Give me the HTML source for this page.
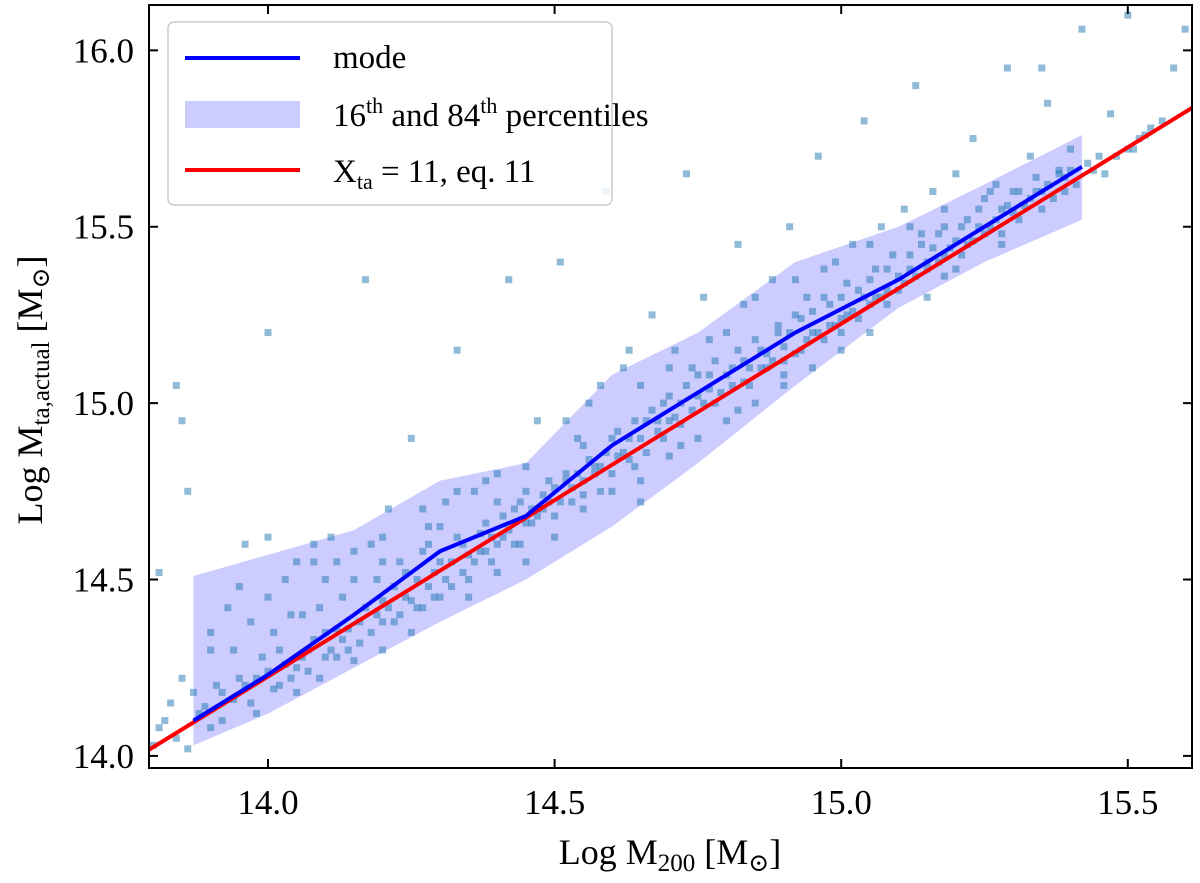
<!DOCTYPE html>
<html><head><meta charset="utf-8">
<style>
body{margin:0;background:#fff;}
svg text{font-family:"Liberation Serif","DejaVu Serif",serif;fill:#000;}
</style></head>
<body>
<svg id="chart" width="1200" height="878" viewBox="0 0 1200 878" xmlns="http://www.w3.org/2000/svg">
<g id="plot"></g>
</svg>
<script>
const xTicks=[14.0,14.5,15.0,15.5];
const xTickLabels=["14.0","14.5","15.0","15.5"];
const yTicks=[14.0,14.5,15.0,15.5,16.0];
const yTickLabels=["14.0","14.5","15.0","15.5","16.0"];
const modeX=[13.87,14.0,14.15,14.3,14.45,14.6,14.75,14.92,15.1,15.25,15.42];
const modeY=[14.1,14.23,14.4,14.58,14.68,14.88,15.03,15.2,15.35,15.5,15.67];
const bandX=[13.87,14.0,14.15,14.3,14.45,14.6,14.75,14.92,15.1,15.25,15.42];
const bandHi=[14.51,14.57,14.64,14.78,14.83,15.08,15.2,15.4,15.5,15.62,15.76];
const bandLo=[14.03,14.12,14.25,14.38,14.5,14.65,14.83,15.05,15.27,15.4,15.52];
const fitX=[13.79,15.62];
const fitY=[14.015,15.845];
const pts=[[13.8,14.03],[13.82,14.1],[13.84,14.05],[13.85,14.22],[13.86,14.75],[13.84,15.05],[13.81,14.52],[13.85,14.95],[13.88,14.12],[13.9,14.08],[13.9,14.3],[13.92,14.18],[13.93,14.42],[13.95,14.22],[13.96,14.6],[13.97,14.15],[13.99,14.28],[14.0,15.2],[14.01,14.35],[14.02,14.2],[14.03,14.5],[14.05,14.25],[14.06,14.4],[14.07,14.3],[14.08,14.55],[14.09,14.22],[14.1,14.35],[14.11,14.62],[14.12,14.28],[14.13,14.45],[14.14,14.36],[14.15,14.5],[14.16,14.32],[14.17,15.35],[14.18,14.6],[14.19,14.4],[14.2,14.44],[14.21,14.7],[14.22,14.38],[14.23,14.55],[14.24,14.45],[14.25,14.9],[14.26,14.5],[14.27,14.42],[14.28,14.65],[14.29,14.52],[14.3,14.45],[14.31,14.72],[14.32,14.55],[14.33,15.15],[14.34,14.6],[14.35,14.5],[14.36,14.75],[14.37,14.58],[14.38,14.66],[14.39,14.55],[14.4,14.8],[14.41,14.62],[14.42,15.35],[14.43,14.7],[14.44,14.6],[14.45,14.75],[14.46,14.66],[14.47,14.95],[14.48,14.7],[14.49,14.78],[14.5,14.68],[14.51,15.4],[14.52,14.8],[14.53,14.72],[14.54,14.9],[14.55,14.78],[14.56,15.0],[14.57,14.82],[14.58,14.75],[14.59,15.6],[14.6,14.9],[14.61,14.85],[14.62,15.1],[14.63,14.9],[14.64,14.82],[14.65,15.05],[14.66,14.95],[14.67,15.25],[14.68,14.92],[14.69,15.0],[14.7,14.95],[14.71,15.15],[14.72,15.0],[14.73,15.65],[14.74,15.1],[14.75,15.02],[14.76,15.3],[14.77,15.08],[14.78,15.0],[14.8,15.2],[14.81,15.1],[14.82,15.45],[14.83,15.12],[14.84,15.05],[14.85,15.3],[14.86,15.15],[14.87,15.1],[14.88,15.35],[14.89,15.2],[14.9,15.12],[14.91,15.5],[14.92,15.25],[14.93,15.15],[14.94,15.3],[14.95,15.2],[14.96,15.7],[14.97,15.3],[14.98,15.22],[14.99,15.4],[15.0,15.3],[15.01,15.25],[15.02,15.45],[15.03,15.32],[15.04,15.8],[15.05,15.35],[15.06,15.3],[15.07,15.5],[15.08,15.38],[15.1,15.32],[15.11,15.55],[15.12,15.42],[15.13,15.9],[15.14,15.45],[15.15,15.38],[15.16,15.6],[15.17,15.48],[15.18,15.42],[15.2,15.65],[15.21,15.5],[15.22,15.45],[15.23,15.75],[15.24,15.55],[15.25,15.48],[15.27,15.62],[15.28,15.55],[15.29,15.95],[15.3,15.6],[15.31,15.52],[15.33,15.7],[15.34,15.6],[15.35,15.55],[15.36,15.85],[15.38,15.65],[15.39,15.6],[15.4,15.72],[15.41,15.62],[15.43,15.68],[15.45,15.7],[15.46,15.65],[15.47,15.82],[15.5,15.72],[15.52,15.75],[15.54,15.78],[15.56,15.8],[15.58,15.95],[15.6,16.06],[15.62,16.05],[15.5,16.1],[15.42,16.06],[15.35,15.95],[14.2,14.3],[14.25,14.35],[14.35,14.45],[14.4,14.52],[14.45,14.55],[14.55,14.7],[14.65,14.78],[14.7,14.85],[14.8,14.95],[14.85,15.0],[14.95,15.1],[15.05,15.2],[15.15,15.3],[15.2,15.38],[14.0,14.45],[14.05,14.55],[14.1,14.5],[13.95,14.48],[14.15,14.58],[13.9,14.35],[14.3,14.65],[14.6,14.75],[14.75,14.9],[14.9,15.05],[15.0,15.15],[14.15,14.27],[14.05,14.18],[13.98,14.12],
[13.81,14.08],[13.83,14.15],[13.86,14.02],[13.87,14.18],[13.89,14.14],[13.91,14.2],[13.92,14.1],[13.94,14.16],[13.94,14.3],[13.96,14.2],[13.97,14.38],[13.98,14.22],[14.0,14.24],[14.01,14.19],[14.02,14.3],[14.03,14.26],[14.04,14.22],[14.04,14.4],[14.06,14.28],[14.07,14.24],[14.08,14.33],[14.09,14.42],[14.1,14.28],[14.11,14.3],[14.12,14.36],[14.13,14.33],[14.14,14.3],[14.16,14.38],[14.17,14.42],[14.18,14.35],[14.19,14.5],[14.2,14.38],[14.21,14.42],[14.22,14.48],[14.23,14.4],[14.24,14.52],[14.25,14.44],[14.26,14.42],[14.27,14.58],[14.28,14.48],[14.29,14.45],[14.3,14.55],[14.31,14.5],[14.32,14.48],[14.33,14.62],[14.34,14.52],[14.35,14.57],[14.36,14.55],[14.37,14.63],[14.38,14.58],[14.39,14.62],[14.4,14.6],[14.41,14.68],[14.42,14.64],[14.43,14.6],[14.44,14.72],[14.45,14.66],[14.46,14.7],[14.47,14.68],[14.48,14.74],[14.49,14.72],[14.5,14.76],[14.51,14.72],[14.52,14.78],[14.53,14.76],[14.54,14.8],[14.55,14.74],[14.56,14.84],[14.57,14.8],[14.58,14.82],[14.59,14.86],[14.6,14.8],[14.61,14.92],[14.62,14.86],[14.63,14.84],[14.64,14.95],[14.65,14.9],[14.66,14.86],[14.67,14.98],[14.68,14.95],[14.69,14.9],[14.7,15.02],[14.71,14.96],[14.72,14.94],[14.73,15.05],[14.74,14.98],[14.75,15.08],[14.76,15.0],[14.77,15.04],[14.78,15.12],[14.79,15.03],[14.8,15.08],[14.81,15.05],[14.82,15.15],[14.83,15.06],[14.84,15.1],[14.85,15.18],[14.86,15.1],[14.87,15.14],[14.88,15.12],[14.89,15.22],[14.9,15.16],[14.91,15.2],[14.92,15.14],[14.93,15.24],[14.94,15.18],[14.95,15.26],[14.96,15.2],[14.97,15.18],[14.98,15.28],[14.99,15.22],[15.0,15.24],[15.01,15.34],[15.02,15.26],[15.03,15.24],[15.04,15.3],[15.05,15.28],[15.06,15.38],[15.07,15.3],[15.08,15.32],[15.09,15.42],[15.1,15.36],[15.11,15.34],[15.12,15.38],[15.13,15.36],[15.14,15.48],[15.15,15.4],[15.16,15.44],[15.17,15.4],[15.18,15.5],[15.19,15.44],[15.2,15.46],[15.21,15.42],[15.22,15.52],[15.23,15.46],[15.24,15.5],[15.25,15.58],[15.26,15.5],[15.27,15.52],[15.28,15.48],[15.29,15.56],[15.3,15.54],[15.31,15.6],[15.32,15.56],[15.33,15.58],[15.34,15.64],[15.35,15.6],[15.36,15.62],[15.37,15.58],[15.38,15.66],[15.39,15.64],[15.4,15.66],[15.44,15.66],[15.48,15.7],[15.51,15.72],[15.53,15.76],[14.0,14.62],[14.08,14.6],[14.12,14.55],[14.2,14.62],[14.27,14.7],[14.33,14.75],[14.38,14.78],[14.45,14.82],[14.52,14.95],[14.58,15.05],[14.63,15.15],[14.7,15.1],[14.77,15.18],[14.83,15.28],[14.92,15.35],[14.97,15.38],[15.05,15.45],[15.12,15.5],[15.18,15.55],[15.26,15.6],[14.2,14.55],[14.28,14.6],[14.4,14.72],[14.5,14.62],[14.55,14.88],[14.65,14.72],[14.72,14.88],[14.82,14.98],[14.9,15.08],[15.0,15.2],[15.08,15.28],[15.18,15.36],[15.28,15.45]];

const L=149,R=1192,T=5,B=768;
const X0=13.7924,X1=15.612,Y0=13.9657,Y1=16.1286;
function sx(v){return L+(v-X0)/(X1-X0)*(R-L);}
function sy(v){return B-(v-Y0)/(Y1-Y0)*(B-T);}
const NS="http://www.w3.org/2000/svg";
const svg=document.getElementById('chart');
const g=document.getElementById('plot');
function mk(tag,attrs,parent){const e=document.createElementNS(NS,tag);for(const k in attrs)e.setAttribute(k,attrs[k]);(parent||g).appendChild(e);return e;}

let d='';
bandX.forEach((x,i)=>{d+=(i?'L':'M')+sx(x)+','+sy(bandHi[i]);});
for(let i=bandX.length-1;i>=0;i--)d+='L'+sx(bandX[i])+','+sy(bandLo[i]);
const band=mk('path',{d:d+'Z',fill:'#ccccff'});



const defs=mk('defs',{},svg);
const cp=mk('clipPath',{id:'clip'},defs);mk('rect',{x:L,y:T,width:R-L,height:B-T},cp);
const sg=mk('g',{'clip-path':'url(#clip)'});


pts.forEach(p=>{const r=mk('rect',{x:sx(p[0])-3.5,y:sy(p[1])-3.5,width:7,height:7,fill:'#1f77b4','fill-opacity':0.5},sg);

});

const fit=mk('polyline',{points:fitX.map((x,i)=>sx(x)+','+sy(fitY[i])).join(' '),stroke:'#ff0000','stroke-width':4,fill:'none','clip-path':'url(#clip)'});


const mode=mk('polyline',{points:modeX.map((x,i)=>sx(x)+','+sy(modeY[i])).join(' '),stroke:'#0000ff','stroke-width':4,fill:'none'});



const fr=mk('rect',{x:L,y:T,width:R-L,height:B-T,fill:'none',stroke:'#000','stroke-width':2});


xTicks.forEach((v,i)=>{const x=sx(v);
mk('line',{x1:x,x2:x,y1:B,y2:B-9,stroke:'#000','stroke-width':2});
mk('line',{x1:x,x2:x,y1:T,y2:T+9,stroke:'#000','stroke-width':2});
const t=mk('text',{x:x,y:814,'font-size':35,'text-anchor':'middle'});t.textContent=xTickLabels[i];

});
yTicks.forEach((v,i)=>{const y=sy(v);
mk('line',{x1:L,x2:L+9,y1:y,y2:y,stroke:'#000','stroke-width':2});
mk('line',{x1:R,x2:R-9,y1:y,y2:y,stroke:'#000','stroke-width':2});
const t=mk('text',{x:134,y:y+12,'font-size':35,'text-anchor':'end'});t.textContent=yTickLabels[i];

});
</script>
<svg style="position:absolute;left:0;top:0" width="1200" height="878">
<g>
<rect x="168" y="22" width="444" height="183" rx="6" fill="#fff" fill-opacity="0.85" stroke="#ccc" stroke-width="1.5"/>
<line x1="185" y1="58" x2="300" y2="58" stroke="#0000ff" stroke-width="4"/>
<text x="333" y="68" font-size="33">mode</text>
<rect x="185" y="101" width="115" height="27" fill="#ccccff"/>
<text x="333" y="126" font-size="33">16<tspan font-size="22" dy="-13">th</tspan><tspan dy="13"> and 84</tspan><tspan font-size="22" dy="-13">th</tspan><tspan dy="13"> percentiles</tspan></text>
<line x1="185" y1="170" x2="300" y2="170" stroke="#ff0000" stroke-width="4"/>
<text x="333" y="182" font-size="33">X<tspan font-size="22" dy="7">ta</tspan><tspan dy="-7"> = 11,  eq. 11</tspan></text>
</g>
<text x="670" y="864" font-size="36" text-anchor="middle">Log M<tspan font-size="25" dy="7">200</tspan><tspan dy="-7"> [M</tspan><tspan font-size="25" dy="7">⊙</tspan><tspan dy="-7">]</tspan></text>
<text transform="translate(42,390) rotate(-90)" font-size="36" text-anchor="middle">Log M<tspan font-size="25" dy="7">ta,actual</tspan><tspan dy="-7"> [M</tspan><tspan font-size="25" dy="7">⊙</tspan><tspan dy="-7">]</tspan></text>
</svg>
</body></html>
